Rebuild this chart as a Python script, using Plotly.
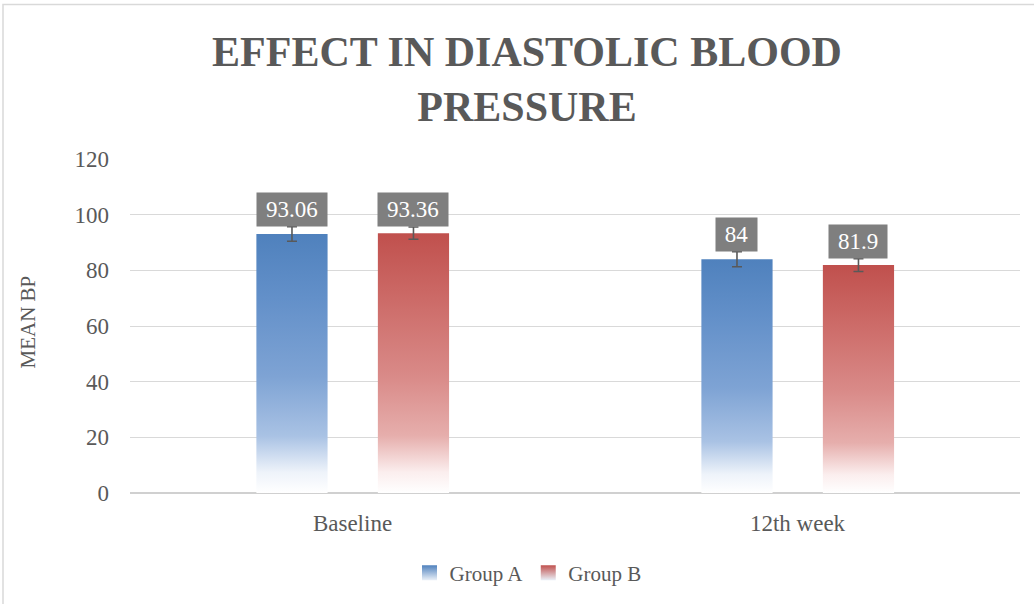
import plotly.graph_objects as go

# ---- data ----
categories = ["Baseline", "12th week"]
group_names = ["Group A", "Group B"]
group_a = [93.06, 84]
group_b = [93.36, 81.9]
err_a = [2.6, 2.7]
err_b = [2.2, 2.3]
label_a = ["93.06", "84"]
label_b = ["93.36", "81.9"]
y_ticks = [0, 20, 40, 60, 80, 100, 120]

# ---- style ----
W, H = 1034, 604
L, R, T, B = 130, 14, 159, 110
PW, PH = W - L - R, H - T - B
TEXT = "#595959"
SERIF = "Liberation Serif, DejaVu Serif, serif"
LABEL_SIZE = 23

series = [
    dict(name=group_names[0], vals=group_a, errs=err_a, labels=label_a, offset=-0.136,
         color="#4f81bd",
         scale=[[0, "rgba(255,255,255,1)"], [0.08, "#eef3fa"], [0.22, "#a9c2e4"],
                [0.45, "#7ea3d4"], [0.75, "#6390c9"], [1, "#4f81bd"]]),
    dict(name=group_names[1], vals=group_b, errs=err_b, labels=label_b, offset=0.137,
         color="#c0504d",
         scale=[[0, "rgba(255,255,255,1)"], [0.08, "#fbeeee"], [0.22, "#e6aeac"],
                [0.45, "#d98a88"], [0.75, "#cc6a67"], [1, "#c0504d"]]),
]
BAR_W = 0.16


def text_w(t, size):
    return size * sum(0.25 if ch == "." else 0.5 for ch in t)


fig = go.Figure()
annotations = []
for s in series:
    for i, v in enumerate(s["vals"]):
        c = i + s["offset"]
        x0, x1 = c - BAR_W / 2, c + BAR_W / 2
        fig.add_trace(go.Scatter(
            x=[x0, x1, x1, x0, x0], y=[0, 0, v, v, 0],
            fill="toself", mode="none", name=s["name"],
            legendgroup=s["name"], showlegend=False,
            fillgradient=dict(type="vertical", colorscale=s["scale"], start=0, stop=v),
            hoverinfo="skip",
        ))
    centers = [i + s["offset"] for i in range(len(s["vals"]))]
    fig.add_trace(go.Scatter(
        x=centers, y=s["vals"], mode="markers", marker=dict(size=1, opacity=0),
        showlegend=False, hoverinfo="skip",
        error_y=dict(type="data", array=s["errs"], visible=True, color="#595959",
                     thickness=1.6, width=5),
    ))
    # legend-only entry with a square gradient swatch
    fig.add_trace(go.Scatter(
        x=[None], y=[None], mode="markers", name=s["name"], legendgroup=s["name"],
        marker=dict(symbol="square", size=15, color=s["color"],
                    gradient=dict(type="vertical", color="#e9eff7"),
                    line=dict(width=0)),
        hoverinfo="skip",
    ))
    for c, v, e, t in zip(centers, s["vals"], s["errs"], s["labels"]):
        annotations.append(dict(
            x=c, y=v + e, xref="x", yref="y", text=t, showarrow=False,
            yanchor="bottom", xanchor="center", bgcolor="#7f7f7f", borderpad=4,
            width=text_w(t, LABEL_SIZE) + 10,
            font=dict(family=SERIF, size=LABEL_SIZE, color="white"),
        ))


def px_x(p):
    return (p - L) / PW


def px_y(p):
    return (H - B - p) / PH


# y-axis title
annotations.append(dict(
    x=px_x(28), y=px_y(323), xref="paper", yref="paper", text="MEAN BP",
    textangle=-90, showarrow=False, xanchor="center", yanchor="middle",
    font=dict(family=SERIF, size=21, color=TEXT),
))

fig.update_layout(
    width=W, height=H,
    margin=dict(l=L, r=R, t=T, b=B),
    paper_bgcolor="white", plot_bgcolor="white",
    title=dict(
        text="EFFECT IN DIASTOLIC BLOOD<br>PRESSURE",
        x=527 / W, xanchor="center", xref="container",
        y=1 - 66 / H, yanchor="middle", yref="container",
        font=dict(family=SERIF, size=42, color=TEXT, weight="bold"),
    ),
    xaxis=dict(
        range=[-0.5, 1.5], tickvals=list(range(len(categories))), ticktext=categories,
        showgrid=False, zeroline=False, showline=False, ticks="",
        ticklabelstandoff=14,
        tickfont=dict(family=SERIF, size=23, color=TEXT), fixedrange=True,
    ),
    yaxis=dict(
        range=[0, 120], tickvals=y_ticks, showgrid=True, gridcolor="#d9d9d9",
        gridwidth=1, zeroline=True, zerolinecolor="#d0d0d0", zerolinewidth=2,
        showline=False, ticks="", ticklen=0, ticklabelstandoff=20,
        tickfont=dict(family=SERIF, size=23, color=TEXT), fixedrange=True,
    ),
    legend=dict(
        orientation="h", x=px_x(528), xanchor="center", y=px_y(573), yanchor="middle",
        font=dict(family=SERIF, size=21, color=TEXT), itemwidth=30,
        bgcolor="rgba(0,0,0,0)",
    ),
    annotations=annotations,
    shapes=[dict(
        type="rect", xref="paper", yref="paper",
        x0=px_x(3), x1=px_x(1070), y0=px_y(4), y1=px_y(640),
        line=dict(color="#d9d9d9", width=1.5), fillcolor="rgba(0,0,0,0)", layer="below",
    )],
    showlegend=True,
)

fig.write_html("out.html", config={"displayModeBar": False},
               post_script="document.body.style.margin='0';")
